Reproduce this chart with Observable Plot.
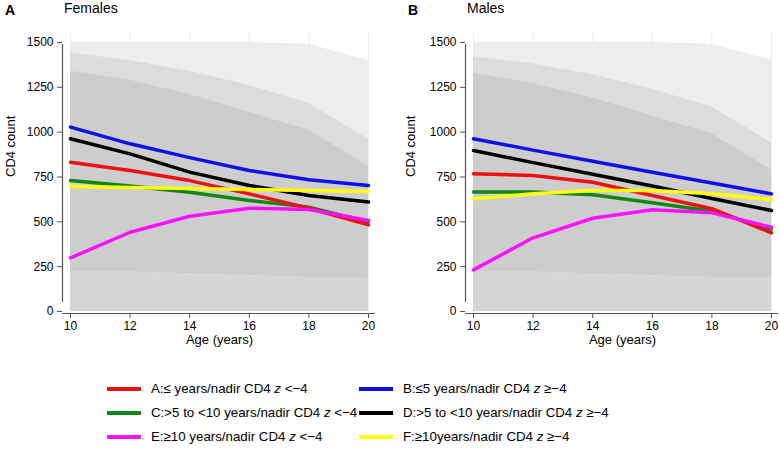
<!DOCTYPE html>
<html>
<head>
<meta charset="utf-8">
<script src="https://cdn.jsdelivr.net/npm/d3@7"></script>
<script src="https://cdn.jsdelivr.net/npm/@observablehq/plot@0.6"></script>
<style>
  body { margin: 0; background: white; font-family: "Liberation Sans", Arial, sans-serif; }
  #wrap { position: relative; width: 780px; height: 449px; overflow: hidden; }
  .panel { position: absolute; top: 0; }
  .ttl { position: absolute; font-size: 14px; line-height: 16px; color: #000; }
  .leg { position: absolute; font-size: 13.3px; line-height: 16px; color: #000; white-space: nowrap; }
  .legline { position: absolute; height: 4px; width: 34px; }
</style>
</head>
<body>
<div id="wrap"></div>
<script>
// ---- data ----
const ages = [10, 12, 14, 16, 18, 20];
const xTicks = [10, 12, 14, 16, 18, 20];
const yTicks = [0, 250, 500, 750, 1000, 1250, 1500];
const groups = ["A", "B", "C", "D", "E", "F"];
const groupLabels = [
  "A:≤ years/nadir CD4 <i>z</i> &lt;−4",
  "B:≤5 years/nadir CD4 <i>z</i> ≥−4",
  "C:&gt;5 to &lt;10 years/nadir CD4 <i>z</i> &lt;−4",
  "D:&gt;5 to &lt;10 years/nadir CD4 <i>z</i> ≥−4",
  "E:≥10 years/nadir CD4 <i>z</i> &lt;−4",
  "F:≥10years/nadir CD4 <i>z</i> ≥−4"
];
const groupColors = ["#ee1111", "#1010e6", "#118811", "#000000", "#ff10ff", "#ffff10"];

// Females
const femA = [832, 786, 730, 656, 576, 483];
const femB = [1028, 935, 858, 786, 735, 703];
const femC = [730, 700, 665, 619, 582, 500];
const femD = [963, 879, 777, 703, 647, 610];
const femE = [299, 442, 531, 576, 569, 507];
const femF = [697, 691, 686, 680, 675, 669];
// Males
const malA = [768, 758, 721, 647, 573, 439];
const malB = [963, 900, 838, 776, 716, 656];
const malC = [667, 666, 651, 606, 559, 460];
const malD = [898, 830, 765, 700, 630, 563];
const malE = [232, 411, 520, 567, 550, 470];
const malF = [628, 656, 675, 675, 656, 624];

// scatter cloud density bands (approximate envelope of the grey points)
const femCloudTop   = [1500, 1500, 1500, 1500, 1490, 1400];
const femCloudMid   = [1440, 1400, 1340, 1260, 1160, 960];
const femCloudDense = [1340, 1290, 1210, 1110, 1010, 810];
const femCloudLow   = [220, 220, 210, 200, 190, 180];
const malCloudTop   = [1500, 1500, 1500, 1500, 1490, 1400];
const malCloudMid   = [1420, 1380, 1320, 1240, 1140, 940];
const malCloudDense = [1330, 1270, 1190, 1090, 990, 790];
const malCloudLow   = [220, 220, 210, 200, 190, 180];

// ---- build tables ----
function lineTable(series) {
  const rows = [];
  series.forEach((vals, gi) => vals.forEach((v, i) => rows.push({group: groups[gi], age: ages[i], cd4: v})));
  return rows;
}
function cloudTable(top, mid, dense, low) {
  return ages.map((a, i) => ({age: a, top: top[i], mid: mid[i], dense: dense[i], low: low[i]}));
}
const drawOrder = ["C", "A", "B", "D", "E", "F"];

function panel(series, cloud, ml, mr, titleDx) {
  const rows = lineTable(series);
  return Plot.plot({
    width: 390, height: 360,
    marginLeft: ml, marginRight: mr, marginTop: 42, marginBottom: 49,
    x: {domain: [10, 20]},
    y: {domain: [0, 1500]},
    color: {domain: groups, range: groupColors},
    style: {fontFamily: "Liberation Sans, Arial, sans-serif", fontSize: "12px", color: "#000", background: "white"},
    marks: [
      Plot.ruleX(xTicks, {stroke: "#ececec", strokeWidth: 1, insetTop: -9}),
      Plot.areaY(cloud, {x: "age", y1: 0, y2: "top", fill: "#ededed"}),
      Plot.areaY(cloud, {x: "age", y1: "low", y2: "mid", fill: "#dcdcdc"}),
      Plot.areaY(cloud, {x: "age", y1: "low", y2: "dense", fill: "#cdcdcd"}),
      Plot.areaY(cloud, {x: "age", y1: 0, y2: "low", fill: "#d6d6d6"}),
      ...drawOrder.map(g => Plot.line(rows.filter(r => r.group === g), {x: "age", y: "cd4", stroke: "group", strokeWidth: 3.5})),
      Plot.ruleX([10], {y1: 0, y2: 1500, dx: -8, insetTop: -9, insetBottom: -2, stroke: "#555", strokeWidth: 1.2}),
      Plot.ruleY([0], {x1: 10, x2: 20, dy: 2, insetLeft: -8, insetRight: -7, stroke: "#555", strokeWidth: 1.2}),
      Plot.axisY(yTicks, {anchor: "left", dx: -8, tickSize: 5, tickPadding: 4, tickFormat: d => String(d), stroke: "#555", fill: "#000", label: null, fontSize: 12}),
      Plot.axisX(xTicks, {anchor: "bottom", dy: 2, tickSize: 5, tickPadding: 3, tickFormat: d => String(d), stroke: "#555", fill: "#000", label: null, fontSize: 12}),
      Plot.text(["CD4 count"], {frameAnchor: "left", dx: titleDx, rotate: -90, fontSize: 13, fill: "#000"}),
      Plot.text(["Age (years)"], {frameAnchor: "bottom", dy: 32, fontSize: 13, fill: "#000"})
    ]
  });
}

const wrap = document.getElementById("wrap");

const pA = panel([femA, femB, femC, femD, femE, femF], cloudTable(femCloudTop, femCloudMid, femCloudDense, femCloudLow), 70, 22, -60);
pA.classList.add("panel"); pA.style.left = "0px";
wrap.appendChild(pA);

const pB = panel([malA, malB, malC, malD, malE, malF], cloudTable(malCloudTop, malCloudMid, malCloudDense, malCloudLow), 83, 9, -63);
pB.classList.add("panel"); pB.style.left = "390px";
wrap.appendChild(pB);

// panel titles
function addText(html, left, top, cls, extra) {
  const d = document.createElement("div");
  d.className = cls; d.innerHTML = html;
  d.style.left = left + "px"; d.style.top = top + "px";
  if (extra) Object.assign(d.style, extra);
  wrap.appendChild(d);
}
addText("A", 5, 2, "ttl", {fontWeight: "bold"});
addText("Females", 64, 0, "ttl");
addText("B", 408, 2, "ttl", {fontWeight: "bold"});
addText("Males", 467, 0, "ttl");

// legend
const legCols = [107, 359];
const legRows = [389, 413, 437];
groups.forEach((g, i) => {
  const col = i % 2, row = Math.floor(i / 2);
  const ln = document.createElement("div");
  ln.className = "legline";
  ln.style.left = legCols[col] + "px";
  ln.style.top = (legRows[row] - 2) + "px";
  ln.style.background = groupColors[i];
  wrap.appendChild(ln);
  addText(groupLabels[i], legCols[col] + 44, legRows[row] - 8, "leg");
});
</script>
</body>
</html>
